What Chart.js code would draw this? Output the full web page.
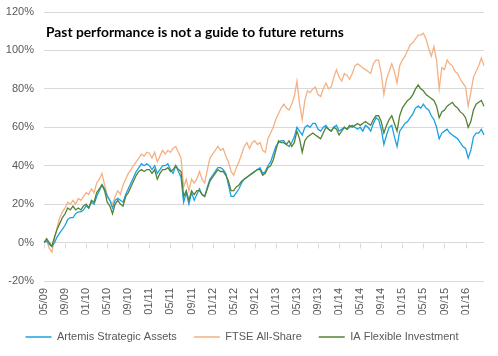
<!DOCTYPE html>
<html><head><meta charset="utf-8">
<script src="https://cdn.jsdelivr.net/npm/chart.js@4/dist/chart.umd.min.js"></script>
<style>
html,body{margin:0;padding:0;background:#fff;}
#wrap{position:relative;width:498px;height:356px;}
#title{position:absolute;left:46px;top:23px;font:bold 13.8px Lato, sans-serif;line-height:17px;color:#000;white-space:nowrap;}
</style></head><body>
<div id="wrap"><canvas id="c" width="498" height="356"></canvas><div id="title">Past performance is not a guide to future returns</div></div>
<script>
const seriesNames = ['Artemis Strategic Assets', 'FTSE All-Share', 'IA Flexible Investment'];
const tickLabels = ['05/09','09/09','01/10','05/10','09/10','01/11','05/11','09/11','01/12','05/12','09/12',
  '01/13','05/13','09/13','01/14','05/14','09/14','01/15','05/15','09/15','01/16'];
const yTicks = [-20, 0, 20, 40, 60, 80, 100, 120];

// half-monthly readings (%), May 2009 -> Apr 2016
const artemis = [
  0, 1, -1, -2, 0, 3, 5, 7,
  9, 12, 13, 13, 15, 16, 16, 17,
  19, 18, 21, 20, 24, 27, 30, 28,
  24, 22, 18, 22, 23, 22, 21, 25,
  28, 31, 34, 37, 39, 41, 40, 41,
  40, 38, 40, 36, 38, 40, 40, 41,
  38, 36, 40, 37, 34, 21, 26, 20,
  26, 22, 25, 28, 25, 24, 29, 33,
  35, 37, 39, 39, 38, 36, 30, 24,
  24, 26, 28, 31, 33, 34, 35, 36,
  37, 38, 39, 36, 37, 40, 42, 46,
  50, 52, 53, 53, 51, 50, 52, 55,
  60, 58, 56, 60, 61, 60, 62, 62,
  59, 58, 60, 61, 59, 58, 60, 61,
  58, 59, 60, 59, 60, 61, 60, 59,
  60, 58, 61, 60, 58, 62, 65, 64,
  59, 51, 56, 60, 61, 55, 50, 58,
  60, 62, 63, 65, 67, 70, 71, 70,
  72, 70, 69, 66, 64, 60, 54, 57,
  58, 59, 57, 56, 55, 54, 52, 50,
  49, 44, 48, 55, 57, 57, 59, 56
];
const ftseAllShare = [
  0, 1, -3, -5, 2, 8, 13, 16,
  18, 21, 20, 22, 20, 23, 22, 24,
  26, 25, 28, 26, 31, 33, 36, 30,
  25, 22, 20, 24, 27, 25, 30, 33,
  36, 38, 40, 42, 44, 46, 45, 47,
  46.5, 44, 47, 42, 45, 48, 46, 48,
  47, 49, 50, 47, 44, 29, 33, 27,
  33, 31, 33, 37, 33, 31, 38, 44,
  46, 48, 50, 48, 49, 45, 42, 37,
  35, 39, 42, 46, 50, 52, 49, 52,
  53, 51, 52, 48, 47, 54, 57, 60,
  64, 67, 70, 72, 70, 69, 72, 76,
  84, 72, 64, 74, 79, 78, 80, 81,
  77, 76, 80, 83, 80, 81, 86, 90,
  86, 84, 88, 87, 85, 88, 92, 93,
  92, 91, 90, 89, 88, 93, 95, 95,
  88, 77, 85, 89, 93, 89, 83, 92,
  95, 97, 100, 103, 104, 106, 108, 108,
  109, 106, 101, 97, 102, 95, 80, 91,
  90, 95, 93, 92, 89, 88, 85, 83,
  81, 71, 78, 86, 89, 92, 96, 92
];
const iaFlexible = [
  0, 2, 0, -2, 3, 7, 10, 13,
  15, 18, 17, 19, 17, 18, 17, 19,
  20, 18, 22, 21, 26, 28, 30, 27,
  21, 19, 15, 20, 22, 20, 19, 24,
  26, 29, 32, 35, 37, 38, 37, 38,
  38, 36, 38, 33, 36, 38, 38, 39,
  37, 38, 40, 38, 37, 24, 27, 22,
  27, 25, 27, 27, 25, 24, 28, 32,
  34, 36, 38, 37, 37, 35, 32, 27,
  27, 29, 30, 32, 33, 34, 35, 36,
  37, 38, 38, 35, 36, 39, 40, 43,
  48, 53, 52, 52, 51, 53, 50, 52,
  58, 54, 47, 53, 55, 56, 57, 56,
  55, 54, 57, 60, 59, 58, 60, 59,
  56, 58, 60, 59, 61, 60, 61, 62,
  61, 62, 63, 62, 61, 64, 66, 66,
  63, 57, 61, 64, 66, 62, 58, 66,
  70, 72, 74, 75, 77, 80, 82, 80,
  79, 77, 76, 75, 74, 71, 65, 68,
  69, 71, 72, 73, 71, 70, 68, 67,
  65, 60, 63, 69, 72, 73, 74, 71
];

// category labels: two readings per month starting 05/09
const categories = [];
for (let m = 0; m < artemis.length / 2; m++) {
  const mo = (4 + m) % 12 + 1, yr = 9 + Math.floor((4 + m) / 12);
  const s = String(mo).padStart(2, '0') + '/' + String(yr).padStart(2, '0');
  categories.push(s, s);
}

const gridColor = '#D9D9D9';
const textColor = '#595959';
const font = {family: 'Liberation Sans, Arial, sans-serif', size: 11};

const zeroTicks = {
  id: 'zeroTicks',
  beforeDatasetsDraw(chart) {
    const xs = chart.scales.x, ys = chart.scales.y, ctx = chart.ctx;
    const y0 = Math.round(ys.getPixelForValue(0)) + 0.5;
    ctx.save();
    ctx.strokeStyle = gridColor; ctx.lineWidth = 1;
    xs.ticks.forEach(t => {
      const px = Math.round(xs.getPixelForValue(t.value)) + 0.5;
      ctx.beginPath(); ctx.moveTo(px, y0); ctx.lineTo(px, y0 + 5); ctx.stroke();
    });
    ctx.restore();
  }
};

const mk = (label, data, color, order) => ({
  label, data, borderColor: color, backgroundColor: color, borderWidth: 1.3,
  pointRadius: 0, pointStyle: 'line', tension: 0, order
});

new Chart(document.getElementById('c'), {
  type: 'line',
  data: {
    labels: categories,
    datasets: [
      mk(seriesNames[0], artemis, '#1BA1E2', 1),
      mk(seriesNames[1], ftseAllShare, '#F4B183', 2),
      mk(seriesNames[2], iaFlexible, '#548235', 0)
    ]
  },
  options: {
    responsive: false, animation: false,
    layout: {padding: {left: 0, right: 14, top: 12, bottom: 3.5}},
    plugins: {
      tooltip: {enabled: false},
      legend: {
        position: 'bottom',
        labels: {
          usePointStyle: true, pointStyleWidth: 26, color: textColor, font, padding: 17,
          sort: (a, b) => a.datasetIndex - b.datasetIndex
        }
      }
    },
    scales: {
      x: {
        type: 'category',
        grid: {display: false, drawTicks: false}, border: {display: false},
        afterBuildTicks: (scale) => { scale.ticks = scale.ticks.filter(t => t.value % 8 === 0); },
        afterFit: (scale) => { scale.height = 33.5; },
        ticks: {
          autoSkip: false, minRotation: 90, maxRotation: 90, color: textColor, font, padding: 7,
          callback: (v) => tickLabels[v / 8]
        }
      },
      y: {
        min: yTicks[0], max: yTicks[yTicks.length - 1],
        afterBuildTicks: (scale) => { scale.ticks = yTicks.map(v => ({value: v})); },
        afterFit: (scale) => { scale.width = 44; scale.paddingTop = 0; scale.paddingBottom = 0; },
        grid: {color: gridColor, drawTicks: false}, border: {display: false},
        ticks: {color: textColor, font, padding: 10, callback: v => v + '%'}
      }
    }
  },
  plugins: [zeroTicks]
});
</script>
</body></html>
